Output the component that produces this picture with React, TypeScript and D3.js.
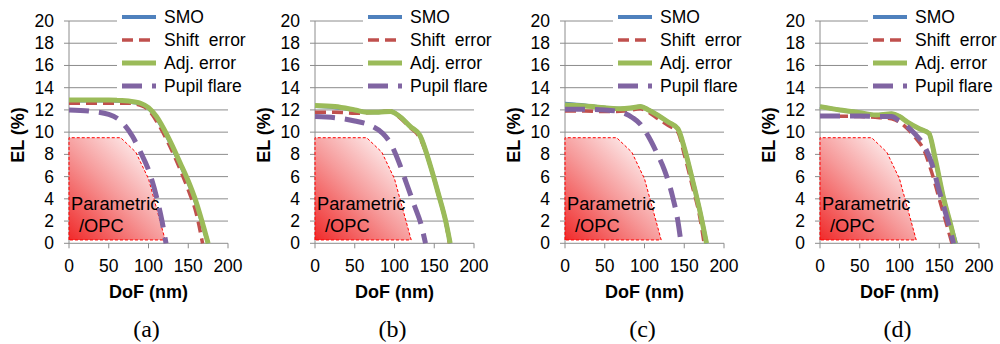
import React from "react";
import * as d3 from "d3";

type Pt = [number, number];

const xTicks = [0, 50, 100, 150, 200];
const yTicks = [0, 2, 4, 6, 8, 10, 12, 14, 16, 18, 20];
const panelLabels = ["(a)", "(b)", "(c)", "(d)"];
const seriesNames = ["SMO", "Shift  error", "Adj. error", "Pupil flare"];

const smoA: Pt[] = [[0,12.85],[25,12.85],[50,12.85],[75,12.75],[90,12.55],[100,12.15],[110,11.3],[125,9.4],[140,7.1],[150,5.5],[160,3.6],[170,1.2],[175,0]];
const shiftA: Pt[] = [[0,12.6],[25,12.6],[50,12.6],[75,12.6],[90,12.4],[100,12.0],[110,11.0],[125,9.0],[140,6.6],[150,4.8],[160,2.7],[168,0]];
const adjA: Pt[] = [[0,12.9],[25,12.9],[50,12.9],[75,12.8],[90,12.6],[100,12.2],[110,11.4],[125,9.5],[140,7.2],[150,5.6],[160,3.7],[170,1.3],[175,0]];
const pupilA: Pt[] = [[0,12.0],[25,11.9],[50,11.6],[65,11.0],[80,9.6],[90,8.2],[100,6.6],[110,4.2],[117,2.0],[122,0]];

const smoB: Pt[] = [[0,12.35],[25,12.25],[50,12.0],[65,11.8],[80,11.8],[95,11.85],[105,11.5],[120,10.5],[132,9.7],[145,7.0],[155,4.5],[165,1.8],[170,0]];
const shiftB: Pt[] = [[0,11.8],[25,11.8],[50,11.7],[75,11.8],[95,11.9],[105,11.4],[120,10.4],[130,9.7],[145,7.0],[155,4.4],[165,1.7],[169,0]];
const adjB: Pt[] = [[0,12.4],[25,12.3],[50,12.0],[65,11.8],[80,11.8],[95,11.85],[105,11.5],[120,10.5],[132,9.7],[145,7.0],[155,4.5],[165,1.8],[170,0]];
const pupilB: Pt[] = [[0,11.4],[25,11.3],[50,11.0],[70,10.6],[85,9.9],[95,9.0],[105,7.4],[115,5.4],[125,3.4],[133,1.8],[139,0]];

const smoC: Pt[] = [[0,12.55],[25,12.4],[50,12.2],[70,12.1],[85,12.2],[95,12.3],[105,12.0],[115,11.6],[130,10.9],[142,10.3],[150,8.6],[160,5.8],[170,2.8],[178,0]];
const shiftC: Pt[] = [[0,11.9],[25,11.9],[50,11.85],[75,11.9],[95,12.1],[105,11.8],[115,11.3],[130,10.6],[142,10.0],[150,8.0],[160,5.2],[170,2.2],[175,0]];
const adjC: Pt[] = [[0,12.45],[25,12.35],[50,12.2],[70,12.1],[85,12.2],[95,12.3],[105,12.0],[115,11.6],[130,10.9],[142,10.3],[150,8.6],[160,5.8],[170,2.8],[178,0]];
const pupilC: Pt[] = [[0,12.05],[25,12.05],[50,12.0],[70,11.8],[85,11.3],[95,10.7],[105,9.6],[115,8.2],[125,6.6],[135,4.3],[142,2.0],[146,0]];

const smoD: Pt[] = [[0,12.3],[25,12.0],[50,11.75],[70,11.55],[90,11.65],[100,11.4],[110,10.9],[125,10.3],[137,9.9],[145,7.5],[155,4.2],[165,1.5],[171,0]];
const shiftD: Pt[] = [[0,11.45],[50,11.4],[75,11.3],[90,11.2],[100,10.9],[110,10.3],[120,9.5],[130,8.5],[140,6.5],[150,4.0],[160,1.5],[166,0]];
const adjD: Pt[] = [[0,12.3],[25,12.0],[50,11.75],[70,11.55],[90,11.65],[100,11.4],[110,10.9],[125,10.3],[137,9.9],[145,7.6],[155,4.2],[165,1.5],[170,0]];
const pupilD: Pt[] = [[0,11.45],[25,11.45],[50,11.45],[75,11.4],[90,11.4],[100,11.0],[110,10.5],[120,9.8],[130,8.9],[140,7.3],[150,4.7],[160,2.2],[168,0]];

const opcRegion: Pt[] = [[0,0.3],[0,9.5],[65,9.5],[84,8.2],[100,5.8],[121,0.3]];

const panels = [
  { label: panelLabels[0], series: [smoA, shiftA, adjA, pupilA] },
  { label: panelLabels[1], series: [smoB, shiftB, adjB, pupilB] },
  { label: panelLabels[2], series: [smoC, shiftC, adjC, pupilC] },
  { label: panelLabels[3], series: [smoD, shiftD, adjD, pupilD] },
];

const styles = [
  { color: "#4F81BD", width: 4, dash: "none" },
  { color: "#C0504D", width: 3.5, dash: "11 6" },
  { color: "#9BBB59", width: 5, dash: "none" },
  { color: "#8064A2", width: 5, dash: "20 10" },
];

const panelX0 = [69, 315, 565, 820];
const plotW = 159;
const yTop = 21;
const yBottom = 243.3;
const font = "'Liberation Sans', Arial, sans-serif";

function Panel({ idx }: { idx: number }) {
  const p = panels[idx];
  const x0 = panelX0[idx];
  const x = d3.scaleLinear().domain([0, 200]).range([x0, x0 + plotW]);
  const y = d3.scaleLinear().domain([0, 20]).range([yBottom, yTop]);
  const line = d3
    .line<Pt>()
    .x((d) => x(d[0]))
    .y((d) => y(d[1]))
    .curve(d3.curveMonotoneX);
  const area = d3
    .line<Pt>()
    .x((d) => x(d[0]))
    .y((d) => y(d[1]))
    .curve(d3.curveLinear);
  const gid = `grad${idx}`;
  const grid = "#8c8c8c";
  return (
    <g>
      <defs>
        <linearGradient id={gid} x1="0" y1="1" x2="0.9" y2="0.05">
          <stop offset="0" stopColor="#f02a2a" />
          <stop offset="0.5" stopColor="#f69a9a" />
          <stop offset="1" stopColor="#ffffff" />
        </linearGradient>
      </defs>
      {yTicks.map((t) => (
        <g key={t}>
          <line x1={x0} x2={x(200)} y1={y(t)} y2={y(t)} stroke={grid} strokeWidth={1} />
          <line x1={x0 - 5} x2={x0} y1={y(t)} y2={y(t)} stroke={grid} strokeWidth={1} />
          <text x={x0 - 15} y={y(t) + 6} textAnchor="end" fontFamily={font} fontSize={17.5} fill="#000">
            {t}
          </text>
        </g>
      ))}
      <line x1={x0} x2={x0} y1={yTop} y2={yBottom} stroke={grid} strokeWidth={1} />
      {xTicks.map((t) => (
        <g key={t}>
          <line x1={x(t)} x2={x(t)} y1={yBottom} y2={yBottom + 5} stroke={grid} strokeWidth={1} />
          <text x={x(t)} y={272} textAnchor="middle" fontFamily={font} fontSize={17.5} fill="#000">
            {t}
          </text>
        </g>
      ))}
      <path
        d={area(opcRegion) + "Z"}
        fill={`url(#${gid})`}
        stroke="#ff0000"
        strokeWidth={1}
        strokeDasharray="3 2"
      />
      <text x={x0 + 2} y={210} fontFamily={font} fontSize={18.3} fill="#000">Parametric</text>
      <text x={x0 + 10} y={232} fontFamily={font} fontSize={18.3} fill="#000">/OPC</text>
      {p.series.map((s, i) => (
        <path
          key={i}
          d={line(s) || ""}
          fill="none"
          stroke={styles[i].color}
          strokeWidth={styles[i].width}
          strokeDasharray={styles[i].dash}
          strokeLinejoin="round"
        />
      ))}
      <rect x={x0 + 48} y={4} width={135} height={94} fill="#fff" />
      {seriesNames.map((n, i) => {
        const cy = 17 + i * 23;
        return (
          <g key={n}>
            <line
              x1={x0 + 53}
              x2={x0 + 87}
              y1={cy}
              y2={cy}
              stroke={styles[i].color}
              strokeWidth={styles[i].width}
              strokeDasharray={styles[i].dash}
            />
            <text x={x0 + 95} y={cy + 6} fontFamily={font} fontSize={17.5} fill="#000" style={{ whiteSpace: "pre" }}>
              {n}
            </text>
          </g>
        );
      })}
      <text
        transform={`translate(${x0 - 45},${135}) rotate(-90)`}
        textAnchor="middle"
        fontFamily={font}
        fontWeight="bold"
        fontSize={18}
        fill="#000"
      >
        EL (%)
      </text>
      <text x={x(100)} y={298} textAnchor="middle" fontFamily={font} fontWeight="bold" fontSize={18} fill="#000">
        DoF (nm)
      </text>
      <text x={x(100) - 2} y={337} textAnchor="middle" fontFamily="'Liberation Serif', 'Times New Roman', serif" fontSize={24} fill="#000">
        {p.label}
      </text>
    </g>
  );
}

export default function App() {
  return (
    <svg
      width={1000}
      height={344}
      style={{ position: "absolute", left: 0, top: 0, background: "#fff" }}
    >
      <rect x={0} y={0} width={1000} height={344} fill="#fff" />
      {panels.map((_, i) => (
        <Panel key={i} idx={i} />
      ))}
    </svg>
  );
}
